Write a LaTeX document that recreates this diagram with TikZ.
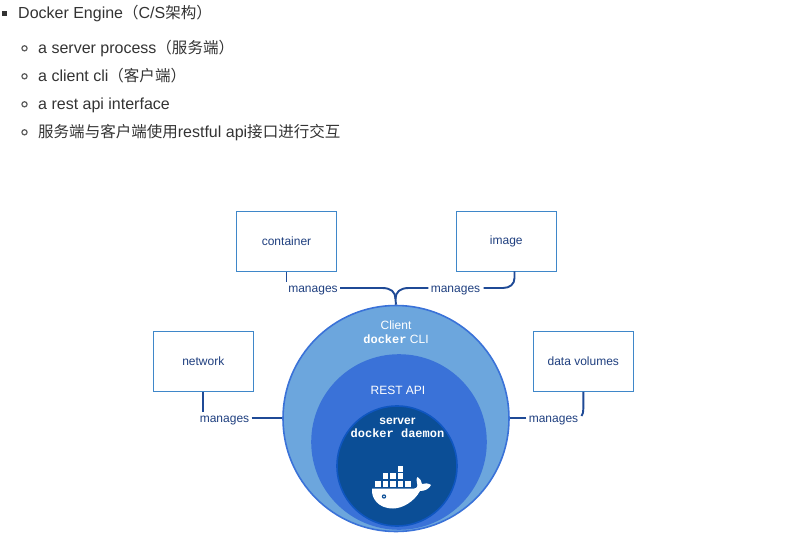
\documentclass[tikz,border=0pt]{standalone}
\usepackage{fontspec}
\setmainfont{Liberation Sans}
\setmonofont{Liberation Mono}
\newfontfamily\cjk[Scale=0.97]{Noto Sans CJK SC}
\usetikzlibrary{calc,positioning}

\definecolor{listgray}{HTML}{333333}
\definecolor{inkblue}{HTML}{1F3F7F}
\definecolor{linkblue}{HTML}{1F4A96}
\definecolor{boxblue}{HTML}{3F87C9}
\definecolor{clientfill}{HTML}{6CA6DD}
\definecolor{restfill}{HTML}{3A72D8}
\definecolor{daemonfill}{HTML}{0B4E96}
\definecolor{daemonline}{HTML}{0F56C0}

\tikzset{
  listtext/.style={anchor=base west,inner sep=0pt,text=listgray,font=\fontsize{16}{19}\selectfont},
  subdot/.style={draw=listgray!80,line width=1.2pt,fill=white},
  partbox/.style={draw=boxblue,line width=0.9pt,fill=white,minimum width=100pt,minimum height=60pt,inner sep=0pt,text=inkblue,font=\fontsize{12}{14}\selectfont},
  manageslabel/.style={inner sep=0pt,minimum width=50pt,text height=10.3pt,text depth=2pt,text=inkblue,font=\fontsize{12}{14}\selectfont},
  link/.style={draw=linkblue,line width=1.9pt},
  ring/.style={circle,inner sep=0pt,line width=1.6pt},
  ringtext/.style={inner sep=0pt,align=center,text=white,font=\fontsize{12}{13.5}\selectfont}
}

\begin{document}
\begin{tikzpicture}[x=1pt,y=-1pt]
  \useasboundingbox (0,0) rectangle (809,535);

  % text list
  \fill[listgray] (2,11) rectangle (7,15.7);
  \node[listtext] (engine) at (18,18.5) {Docker Engine{\cjk（}C/S{\cjk 架构）}};
  \draw[subdot] (24.5,48.3) circle (2.6);
  \draw[subdot] (24.5,76.3) circle (2.6);
  \draw[subdot] (24.5,104.3) circle (2.6);
  \draw[subdot] (24.5,132.3) circle (2.6);
  \node[listtext] (server) at (38,53.5) {a server process{\cjk（服务端）}};
  \node[listtext] (client) at (38,81.5) {a client cli{\cjk（客户端）}};
  \node[listtext] (rest) at (38,109.5) {a rest api interface};
  \node[listtext] (usage) at (38,137.5) {{\cjk 服务端与客户端使用}restful api{\cjk 接口进行交互}};

  % circles
  \node[ring,draw=restfill,fill=clientfill,minimum size=226pt] (cli) at (396,418.5) {};
  \node[ring,draw=restfill,fill=restfill,minimum size=174pt] (api) at (399,442) {};
  \node[ring,draw=daemonline,fill=daemonfill,minimum size=120pt] (daemon) at (397,466) {};
  \node[ringtext] (clilabel) at (396,332) {Client\\\textbf{\texttt{docker}} CLI};
  \node[ringtext] (apilabel) at (398,390) {REST API};
  \node[ringtext] (daemonlabel) at (397.5,428) {\textbf{server}\\\textbf{\texttt{docker daemon}}};

  % boxes
  \node[partbox] (container) at (286.5,241.3) {container};
  \node[partbox] (image) at (506.3,241.3) {image};
  \node[partbox] (network) at (203.3,361.3) {network};
  \node[partbox] (volumes) at (583.3,361.3) {data volumes};

  \node[manageslabel] (mgcontainer) at (313,288) {manages};
  \node[manageslabel] (mgimage) at (455.5,288) {manages};
  \node[manageslabel] (mgnetwork) at (224.5,418) {manages};
  \node[manageslabel] (mgvolumes) at (553.5,418) {manages};

  % connectors
  \draw[link,line width=1.2pt] (container.south) -- (container.south |- mgcontainer.north);
  \draw[link] ([xshift=2pt]mgcontainer.east) -- (382,288) .. controls (391,288) and (395.5,292) .. (395.5,299) -- (cli.north);
  \draw[link] ([xshift=-2pt]mgimage.west) -- (409,288) .. controls (400,288) and (395.5,292) .. (395.5,299);
  \draw[link] ([xshift=3pt]mgimage.east) -- (503,288) .. controls (510,288) and (514.5,284) .. (514.5,278) -- (514.5,271.3);
  \draw[link] (network.south) -- (network.south |- mgnetwork.north);
  \draw[link] ([xshift=2pt]mgnetwork.east) -- (mgnetwork.east -| cli.west);
  \draw[link] ([xshift=-2pt]mgvolumes.west) -- (mgvolumes.west -| cli.east);
  \draw[link] (volumes.south) -- (583.3,409) .. controls (583.3,412) and (583,414) .. (581.5,416);

  % whale
  \fill[white] (397.7,466) rectangle +(5.6,5.6);
  \foreach \col in {382.7,390,397.7} \fill[white] (\col,473.4) rectangle +(5.6,5.6);
  \foreach \col in {375.3,382.7,390,397.7,405.3} \fill[white] (\col,481) rectangle +(5.6,5.6);
  \fill[white] (372,488.5) -- (414,488.5)
    .. controls (417,488.5) and (418,486) .. (417,483)
    .. controls (416,480) and (416.5,478) .. (417.5,477)
    .. controls (420,479) and (422,481) .. (422,484)
    .. controls (425,483) and (428,483) .. (431,485)
    .. controls (429,489) and (425,491) .. (420,491)
    .. controls (414,502) and (402,508.5) .. (393,508.5)
    .. controls (378,508.5) and (371,498) .. (372,488.5) -- cycle;
  \fill[daemonfill] (384,496.5) circle (2.2);
  \fill[white] (384,496.5) circle (0.9);
\end{tikzpicture}
\end{document}
